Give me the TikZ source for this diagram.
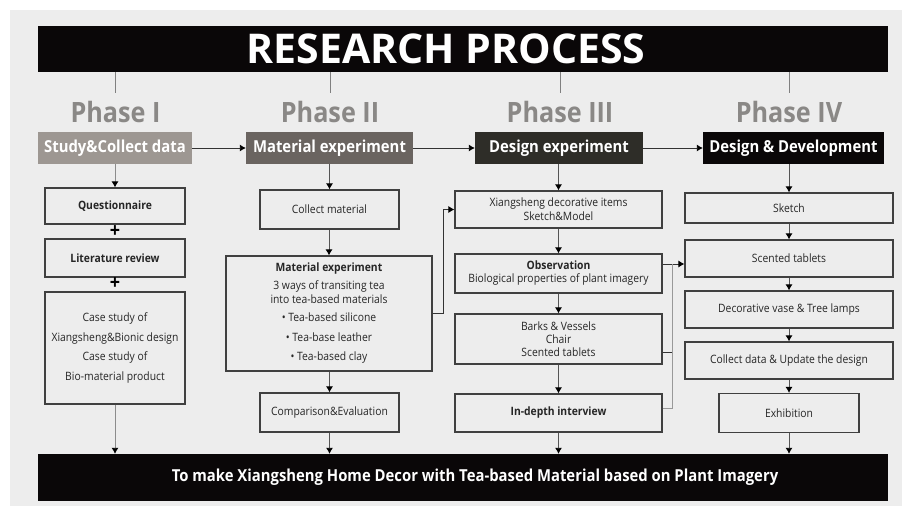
\documentclass[tikz,border=0pt]{standalone}
\usepackage{fontspec}
\setmainfont{Open Sans}[FakeStretch=0.9]
\newfontfamily\titlefont{Open Sans}
\usetikzlibrary{arrows.meta}
\definecolor{bggray}{RGB}{237,237,237}
\definecolor{phasegray}{RGB}{138,136,134}
\definecolor{hdone}{RGB}{157,151,146}
\definecolor{hdtwo}{RGB}{106,100,96}
\definecolor{hdthree}{RGB}{46,45,40}
\definecolor{hdfour}{RGB}{10,7,8}
\definecolor{linegray}{RGB}{85,85,85}

\begin{document}
\begin{tikzpicture}[x=1pt,y=-1pt,
    box/.style={draw=black!75, line width=1.1pt, fill=bggray, inner sep=1pt, align=center,
      text=black!85, font=\fontsize{11.5}{13}\selectfont},
    head/.style={fill=#1, text=white, minimum height=32pt, inner sep=0pt,
      font=\bfseries\fontsize{16.5}{20}\selectfont},
    phase/.style={text=phasegray, anchor=base, inner xsep=0pt, inner ysep=8pt,
      font=\bfseries\fontsize{28}{30}\selectfont},
    banner/.style={fill=hdfour, text=white, minimum width=850pt, inner sep=0pt},
    plus/.style={inner sep=0pt, font=\bfseries\fontsize{20}{20}\selectfont},
    arr/.style={draw=linegray, line width=0.9pt, -{Latex[length=6pt,width=7pt,color=black]}},
    harr/.style={draw=black!80, line width=0.9pt, -{Latex[length=6pt,width=7pt,color=black]}},
    link/.style={draw=black!80, line width=1pt},
    tick/.style={draw=black!50, line width=1pt}]
        \fill[white] (0,0) rectangle (902,506);
        \fill[bggray] (10,10) rectangle (902,506);

        \node[banner, minimum height=46pt, font=\titlefont\bfseries\fontsize{41}{44}\selectfont] (title) at (463,49)
            {\hspace*{-34pt}RESEARCH PROCESS};
        \node[banner, minimum height=47pt, font=\bfseries\fontsize{16.5}{20}\selectfont] (goal) at (463,477.5)
            {\hspace*{24pt}To make Xiangsheng Home Decor with Tea-based Material based on Plant Imagery};

        \node[phase] (ph1) at (115.5,122) {Phase I};
        \node[phase] (ph2) at (330,122) {Phase II};
        \node[phase] (ph3) at (560,122) {Phase III};
        \node[phase] (ph4) at (789,122) {Phase IV};
        \foreach \p in {ph1,ph2,ph3,ph4}
            \draw[tick] (\p.north |- title.south) -- (\p.north);

        \node[head=hdone, minimum width=154pt] (hd1) at (115,148) {Study\&Collect data};
        \node[head=hdtwo, minimum width=167pt] (hd2) at (329.5,148) {Material experiment};
        \node[head=hdthree, minimum width=168pt] (hd3) at (559,148) {Design experiment};
        \node[head=hdfour, minimum width=181pt] (hd4) at (793.5,148) {Design \& Development};
        \foreach \a/\b in {hd1/hd2, hd2/hd3, hd3/hd4}
            \draw[harr] (\a) -- (\b);

        % Phase I
        \node[box, minimum width=140pt, minimum height=36pt, font=\bfseries\fontsize{11.5}{13}\selectfont] (qst) at (115,206) {Questionnaire};
        \node[plus] (plsa) at (115,232) {+};
        \node[box, minimum width=140pt, minimum height=38pt, font=\bfseries\fontsize{11.5}{13}\selectfont] (litr) at (115,258) {Literature review};
        \node[plus] (plsb) at (115,284) {+};
        \node[box, minimum width=140pt, minimum height=112pt, font=\fontsize{11.5}{19.5}\selectfont] (case) at (115,348)
            {Case study of\\Xiangsheng\&Bionic design\\Case study of\\Bio-material product};

        % Phase II
        \node[box, minimum width=139pt, minimum height=39pt] (colm) at (329.5,209.5) {Collect material};
        \node[box, minimum width=206pt, minimum height=115pt, font=\fontsize{11.5}{14}\selectfont] (mexp) at (329,313.5)
            {\textbf{Material experiment}\\[4pt] 3 ways of transiting tea\\ into tea-based materials\\[4pt]
             • Tea-based silicone\\[6pt] • Tea-base leather\\[5pt] • Tea-based clay};
        \node[box, minimum width=139pt, minimum height=39pt] (comp) at (329.5,412.5) {Comparison\&Evaluation};

        % Phase III
        \node[box, minimum width=207pt, minimum height=37pt, font=\fontsize{11.5}{14}\selectfont] (xsd) at (558.5,209.5)
            {Xiangsheng decorative items\\Sketch\&Model};
        \node[box, minimum width=207pt, minimum height=39pt] (obs) at (558.5,273.5)
            {\textbf{Observation}\\Biological properties of plant imagery};
        \node[box, minimum width=207pt, minimum height=50pt] (bvc) at (558.5,339) {Barks \& Vessels\\Chair\\Scented tablets};
        \node[box, minimum width=207pt, minimum height=38pt, font=\bfseries\fontsize{11.5}{13}\selectfont] (indp) at (558.5,413) {In-depth interview};

        % Phase IV
        \node[box, minimum width=208pt, minimum height=30pt] (sktc) at (789,208) {Sketch};
        \node[box, minimum width=208pt, minimum height=37pt] (scnt) at (789,258.5) {Scented tablets};
        \node[box, minimum width=208pt, minimum height=37pt] (dvase) at (789,309.5) {Decorative vase \& Tree lamps};
        \node[box, minimum width=208pt, minimum height=37pt] (cdata) at (789,360.5) {Collect data \& Update the design};
        \node[box, minimum width=140pt, minimum height=39pt] (exhb) at (789,413) {Exhibition};

        % arrows down each column
        \draw[arr, draw=black!45] (hd1.south -| qst.north) -- (qst.north);
        \foreach \a/\b in {hd2/colm, colm/mexp, mexp/comp, hd3/xsd, xsd/obs, obs/bvc, bvc/indp,
                           hd4/sktc, sktc/scnt, scnt/dvase, dvase/cdata, cdata/exhb}
            \draw[arr] (\a.south -| \b.north) -- (\b.north);
        \draw[arr, draw=black!45] (case.south) -- (case.south |- goal.north);
        \foreach \a in {comp, indp, exhb}
            \draw[arr] (\a.south) -- (\a.south |- goal.north);

        % cross links
        \draw[arr, draw=black!80] (mexp.east) -- ++(11,0) |- (xsd.west);
        \coordinate (bus) at (672,264);
        \draw[arr, draw=black!80] (obs.east |- bus) -- (scnt.west |- bus);
        \draw[link] (bvc.east |- 0,352) -| (bus);
        \draw[link, draw=black!40] (indp.east |- 0,408) -| (bus);
\end{tikzpicture}
\end{document}
